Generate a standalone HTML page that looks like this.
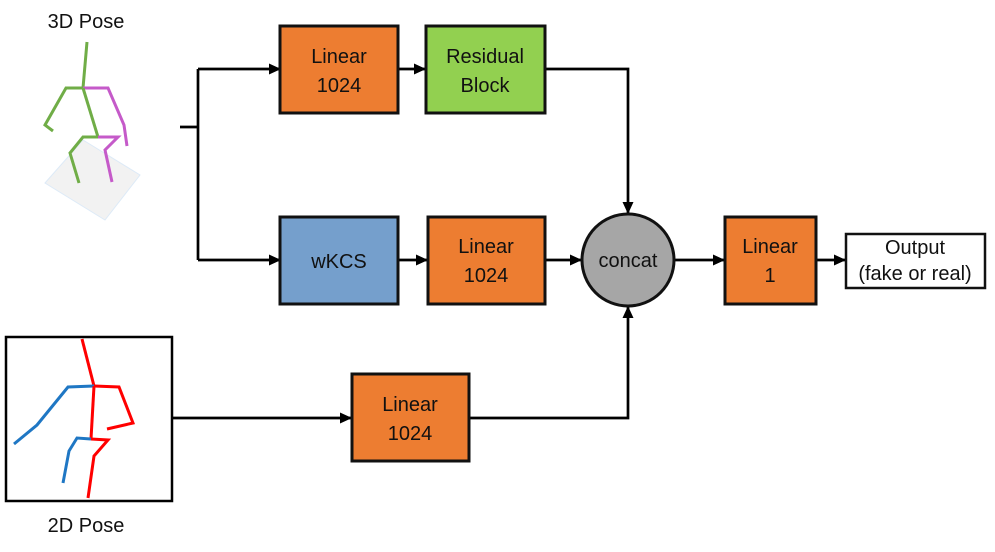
<!DOCTYPE html>
<html><head><meta charset="utf-8"><style>
html,body{margin:0;padding:0;background:#fff;width:995px;height:552px;overflow:hidden}
text{font-family:"Liberation Sans",sans-serif;font-size:20px;fill:#111}
</style></head><body>
<svg width="995" height="552" viewBox="0 0 995 552" xmlns="http://www.w3.org/2000/svg">
<defs><marker id="a" markerWidth="12" markerHeight="12" refX="11" refY="6" orient="auto" markerUnits="userSpaceOnUse"><path d="M0,0.5 L12,6 L0,11.5 Z" fill="#000"/></marker></defs>
<text x="86" y="28" text-anchor="middle">3D Pose</text>
<polygon points="45,183 83,140 140,175 105,220" fill="#f2f2f2" stroke="#ddeaf7" stroke-width="1"/>
<g fill="none" stroke-width="3" stroke-linejoin="miter">
<polyline points="87,42 83,88" stroke="#70ad47"/>
<polyline points="83,88 66,88 45,125 53,131" stroke="#70ad47"/>
<polyline points="83,88 108,88 124,125 127,146" stroke="#c55ac9"/>
<polyline points="83,88 98,137" stroke="#70ad47"/>
<polyline points="98,137 83,137 70,153 79,183" stroke="#70ad47"/>
<polyline points="98,137 118,137 105,150 112,182" stroke="#c55ac9"/>
</g>
<rect x="6" y="337" width="166" height="164" fill="#fff" stroke="#000" stroke-width="2.5"/>
<g fill="none" stroke-width="3">
<polyline points="82,339 94,386" stroke="#f00"/>
<polyline points="94,386 68,387 37,425 14,444" stroke="#1f77c4"/>
<polyline points="94,386 119,387 133,423 107,429" stroke="#f00"/>
<polyline points="94,386 91,439" stroke="#f00"/>
<polyline points="91,439 77,438 69,451 63,483" stroke="#1f77c4"/>
<polyline points="91,439 108,440 94,456 88,498" stroke="#f00"/>
</g>
<text x="86" y="532" text-anchor="middle">2D Pose</text>
<g stroke="#000" stroke-width="2.7" fill="none">
<line x1="180" y1="127" x2="198" y2="127"/>
<line x1="198" y1="69" x2="198" y2="260"/>
<line x1="198" y1="69" x2="280" y2="69" marker-end="url(#a)"/>
<line x1="198" y1="260" x2="280" y2="260" marker-end="url(#a)"/>
<line x1="398" y1="69" x2="425" y2="69" marker-end="url(#a)"/>
<line x1="398" y1="260" x2="427" y2="260" marker-end="url(#a)"/>
<polyline points="545,69 628,69 628,213" marker-end="url(#a)"/>
<line x1="545" y1="260" x2="581" y2="260" marker-end="url(#a)"/>
<line x1="674" y1="260" x2="724" y2="260" marker-end="url(#a)"/>
<line x1="816" y1="260" x2="845" y2="260" marker-end="url(#a)"/>
<line x1="172" y1="418" x2="351" y2="418" marker-end="url(#a)"/>
<polyline points="469,418 628,418 628,307" marker-end="url(#a)"/>
</g>
<g stroke="#111" stroke-width="3">
<rect x="280" y="26" width="118" height="87" fill="#ed7d31"/>
<rect x="426" y="26" width="119" height="87" fill="#92d050"/>
<rect x="280" y="217" width="118" height="87" fill="#759fcc"/>
<rect x="428" y="217" width="117" height="87" fill="#ed7d31"/>
<rect x="352" y="374" width="117" height="87" fill="#ed7d31"/>
<rect x="725" y="217" width="91" height="87" fill="#ed7d31"/>
<rect x="846" y="234" width="139" height="54" fill="#fff" stroke-width="2.5"/>
<circle cx="628" cy="260" r="46" fill="#a6a6a6"/>
</g>
<g text-anchor="middle">
<text x="339" y="63">Linear</text><text x="339" y="92">1024</text>
<text x="485" y="63">Residual</text><text x="485" y="92">Block</text>
<text x="339" y="268">wKCS</text>
<text x="486" y="253">Linear</text><text x="486" y="282">1024</text>
<text x="410" y="411">Linear</text><text x="410" y="440">1024</text>
<text x="628" y="267">concat</text>
<text x="770" y="253">Linear</text><text x="770" y="282">1</text>
<text x="915" y="254">Output</text><text x="915" y="280">(fake or real)</text>
</g>
</svg>
</body></html>
